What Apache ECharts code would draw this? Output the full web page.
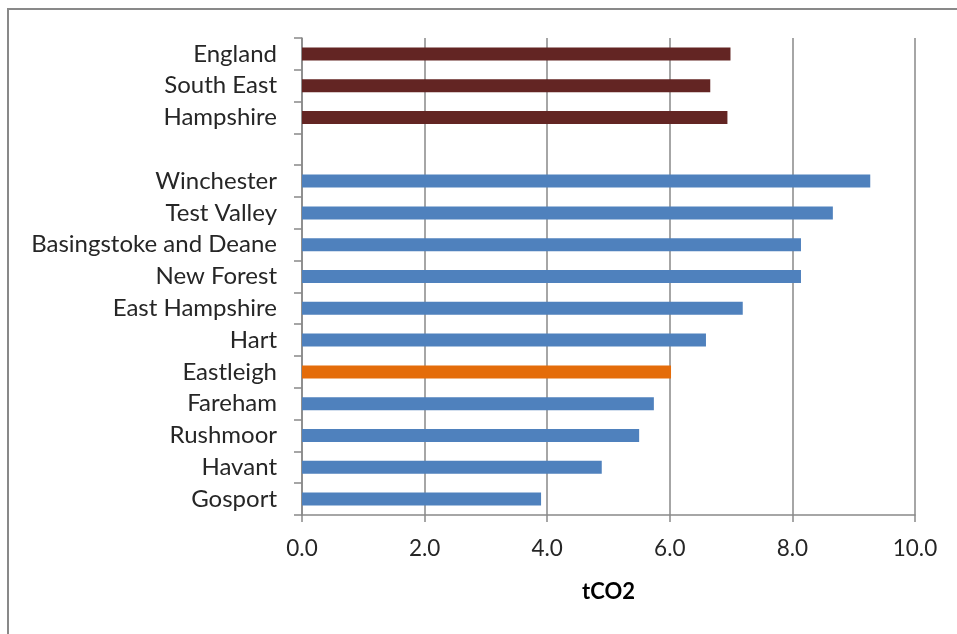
<!DOCTYPE html>
<html>
<head>
<meta charset="utf-8">
<script src="https://cdn.jsdelivr.net/npm/echarts@6/dist/echarts.min.js"></script>
<style>html,body{margin:0;padding:0;background:#fff;}#c{width:957px;height:634px;}</style>
</head>
<body>
<div id="c"></div>
<script>
var categories = ["England","South East","Hampshire","","Winchester","Test Valley","Basingstoke and Deane","New Forest","East Hampshire","Hart","Eastleigh","Fareham","Rushmoor","Havant","Gosport"];
var values = [6.99, 6.66, 6.94, null, 9.27, 8.66, 8.14, 8.14, 7.19, 6.59, 6.02, 5.74, 5.50, 4.89, 3.90];
var groups = ["region","region","region","","district","district","district","district","district","district","highlight","district","district","district","district"];
var xTicks = [0, 2, 4, 6, 8, 10];
var groupColors = {region: "#632523", district: "#4F81BD", highlight: "#E46C0A"};

var chart = echarts.init(document.getElementById('c'));
var font = "Lato, 'Open Sans', sans-serif";
chart.setOption({
  animation: false,
  graphic: [{
    type: 'rect', shape: {x: 8, y: 9, width: 1200, height: 1000},
    style: {fill: 'none', stroke: '#898989', lineWidth: 2}
  }],
  grid: {left: 302, right: 42, top: 38, bottom: 119},
  xAxis: {
    type: 'value', min: xTicks[0], max: xTicks[xTicks.length - 1], interval: 2,
    name: 'tCO2', nameLocation: 'middle', nameGap: 66,
    nameTextStyle: {fontFamily: font, fontSize: 22, fontWeight: 'bold', color: '#000'},
    axisLine: {show: true, lineStyle: {color: '#898989', width: 1.5}},
    axisTick: {show: true, length: 7, lineStyle: {color: '#898989', width: 1.5}},
    axisLabel: {fontFamily: font, fontSize: 22.5, color: '#262626', margin: 22,
      formatter: function (v) { return v.toFixed(1); }},
    splitLine: {show: true, lineStyle: {color: '#898989', width: 1.5}}
  },
  yAxis: {
    type: 'category', data: categories, inverse: true,
    axisLine: {show: true, lineStyle: {color: '#898989', width: 1.5}},
    axisTick: {show: true, length: 8, lineStyle: {color: '#898989', width: 1.5}},
    axisLabel: {fontFamily: font, fontSize: 24, color: '#262626', margin: 25}
  },
  series: [{
    type: 'bar', barWidth: 13,
    data: values.map(function (v, i) {
      return {value: v, itemStyle: {color: groupColors[groups[i]] || '#4F81BD'}};
    })
  }]
});
</script>
</body>
</html>
